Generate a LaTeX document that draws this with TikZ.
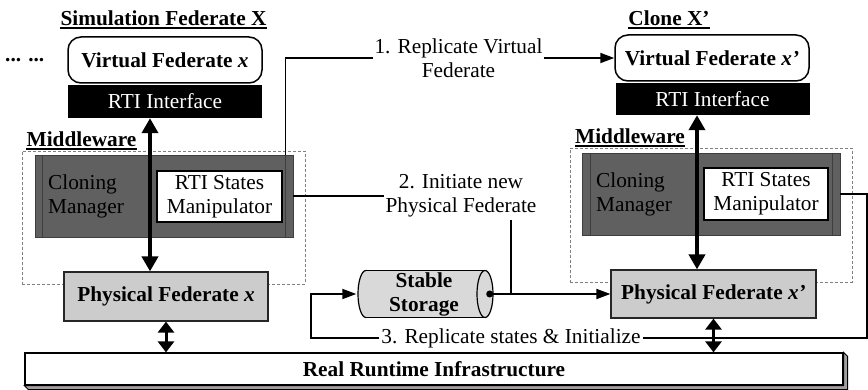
\documentclass[tikz,border=0pt]{standalone}
\usepackage{fontspec}
\setmainfont{LiberationSerif}[
  Extension=.ttf,
  UprightFont=*-Regular,
  BoldFont=*-Bold,
  ItalicFont=*-Italic,
  BoldItalicFont=*-BoldItalic]
\usetikzlibrary{arrows.meta}

\definecolor{mgrfill}{RGB}{96,96,96}
\definecolor{mgrline}{RGB}{62,62,62}
\definecolor{physfill}{RGB}{204,204,204}
\definecolor{storfill}{RGB}{217,217,217}
\definecolor{bevelfill}{RGB}{160,160,160}

\newcommand\dgfont{\rmfamily\fontsize{21.3}{24}\selectfont}

\tikzset{
  every node/.style={font=\dgfont, inner sep=0pt, align=center},
  vfed/.style={draw, line width=1.5pt, rounded corners=13pt, fill=white,
    minimum width=194pt, minimum height=46pt, font=\dgfont\bfseries},
  rtibox/.style={fill=black, text=white, minimum width=194pt, minimum height=33pt},
  headline/.style={font=\dgfont\bfseries, text depth=0pt},
  uline/.style={line width=1.5pt},
  mwframe/.style={draw=gray, densely dashed, line width=0.6pt},
  cmbox/.style={fill=mgrfill, draw=mgrline, line width=0.8pt,
    minimum width=258pt, minimum height=82pt},
  cmstrip/.style={draw=mgrline, line width=0.8pt},
  manip/.style={fill=white, draw=black, line width=1.3pt},
  phys/.style={fill=physfill, draw=black!85, line width=1.2pt, font=\dgfont\bfseries},
  conn/.style={line width=1.8pt},
  tip/.style={-{Triangle[length=14pt,width=10pt]}},
  bigarrow/.style={line width=4pt,
    {Triangle[length=15pt,width=16pt]}-{Triangle[length=15pt,width=16pt]}},
  smallarrow/.style={line width=3pt,
    {Triangle[length=11pt,width=16pt]}-{Triangle[length=11pt,width=16pt]}},
}

\begin{document}
\begin{tikzpicture}[x=1pt, y=-1pt]
\useasboundingbox (0,0) rectangle (868,390);

% middleware frames
\node[mwframe, minimum width=283pt, minimum height=133pt] (mw1) at (163.5,217.5) {};
\node[mwframe, minimum width=282pt, minimum height=134pt] (mw2) at (711,215) {};

% headings
\node[headline] (t1) at (163.5,18) {Simulation Federate X};
\draw[uline] ([yshift=-2.5pt]t1.south west) -- ([yshift=-2.5pt]t1.south east);
\node[headline] (t2) at (669,18) {Clone X’};
\draw[uline] ([yshift=-2.5pt]t2.south west) -- ([yshift=-2.5pt]t2.south east);
\node[headline] (m1) at (81.5,139) {Middleware};
\draw[uline] ([yshift=-2.5pt]m1.south west) -- ([yshift=-2.5pt]m1.south east);
\node[headline] (m2) at (630,136) {Middleware};
\draw[uline] ([yshift=-2.5pt]m2.south west) -- ([yshift=-2.5pt]m2.south east);
\node[headline, anchor=base west] (dots) at (5,62) {... ...};

% virtual federates and RTI interfaces
\node[vfed] (vf1) at (165,60) {Virtual Federate \textit{x}};
\node[rtibox] (rti1) at (165,101.5) {RTI Interface};
\node[vfed] (vf2) at (712,58) {Virtual Federate \textit{x’}};
\node[rtibox, minimum height=32pt] (rti2) at (712.5,99) {RTI Interface};

% cloning managers
\node[cmbox] (cm1) at (164,196) {};
\draw[cmstrip] ([xshift=8pt]cm1.north west) -- ([xshift=8pt]cm1.south west);
\draw[cmstrip] ([xshift=-8pt]cm1.north east) -- ([xshift=-8pt]cm1.south east);
\node[anchor=west, align=left] (cl1) at (48,196) {Cloning\\Manager};
\node[cmbox] (cm2) at (711,194) {};
\draw[cmstrip] ([xshift=9pt]cm2.north west) -- ([xshift=9pt]cm2.south west);
\draw[cmstrip] ([xshift=-8pt]cm2.north east) -- ([xshift=-8pt]cm2.south east);
\node[anchor=west, align=left] (cl2) at (596,194) {Cloning\\Manager};

% state manipulators
\node[manip, minimum width=125pt, minimum height=51pt] (sm1) at (219.5,196.5) {RTI States\\Manipulator};
\node[manip, minimum width=124pt, minimum height=52pt] (sm2) at (766,194) {RTI States\\Manipulator};

% physical federates
\node[phys, minimum width=204pt, minimum height=49pt] (pf1) at (166,296.5) {Physical Federate \textit{x}};
\node[phys, minimum width=205pt, minimum height=48pt] (pf2) at (713.5,294) {Physical Federate \textit{x’}};

% stable storage cylinder
\filldraw[fill=storfill, draw=black, line width=1.2pt] (366,294) ellipse [x radius=8pt, y radius=23.5pt];
\fill[storfill] (366,270.5) rectangle (485,317.5);
\draw[line width=1.2pt] (366,270.5) -- (485,270.5) (366,317.5) -- (485,317.5);
\filldraw[fill=storfill, draw=black, line width=1.2pt] (485,294) ellipse [x radius=8pt, y radius=23.5pt];
\node[font=\dgfont\bfseries, minimum width=135pt, minimum height=47pt] (ss) at (424,294) {Stable\\Storage};

% runtime infrastructure bar
\node[draw, fill=white, line width=1.2pt, font=\dgfont\bfseries,
  minimum width=818pt, minimum height=32pt] (rri) at (434,369) {Real Runtime Infrastructure};
\filldraw[fill=bevelfill, draw=black, line width=0.8pt]
  (rri.south west) -- ++(4,4) -- ([shift={(4,4)}]rri.south east)
  -- ([shift={(4,4)}]rri.north east) -- (rri.north east) -- (rri.south east) -- cycle;

% step labels
\node[inner xsep=1pt] (lab1) at (458.5,58) {1. Replicate Virtual\\Federate};
\node[inner xsep=1pt, inner ysep=2pt] (lab2) at (461,196) {2. Initiate new\\Physical Federate};
\node[inner xsep=2pt] (lab3) at (511,338) {3. Replicate states \& Initialize};

% step 1: replicate virtual federate
\draw[conn] ([xshift=-8pt]cm1.north east) |- (lab1.west);
\draw[conn, tip] (lab1.east) -- (vf2.west);

% step 2: initiate new physical federate
\coordinate (j2) at (511,294);
\coordinate (sdot) at ([xshift=-2pt]ss.east);
\draw[conn] (cm1.east) -- (lab2.west);
\draw[conn] (lab2.south -| j2) -- (j2);
\draw[conn, tip] (sdot) -- (pf2.west);
\fill (sdot) circle (3.5pt);

% step 3: replicate states and initialize
\coordinate (r3) at (867,338);
\draw[conn] (cm2.east) -| (r3) -- (lab3.east);
\draw[conn, tip] (lab3.west) -| ([xshift=-45pt]ss.west) -- (ss.west);

% RTI interface <-> physical federate
\draw[bigarrow] ([xshift=-15pt]rti1.south) -- ([xshift=-15pt]rti1.south |- pf1.north);
\draw[bigarrow] ([xshift=-15.5pt]rti2.south) -- ([xshift=-15.5pt]rti2.south |- pf2.north);

% physical federate <-> runtime infrastructure
\draw[smallarrow] (pf1.south) -- (pf1.south |- rri.north);
\draw[smallarrow] (pf2.south) -- (pf2.south |- rri.north);
\end{tikzpicture}
\end{document}
